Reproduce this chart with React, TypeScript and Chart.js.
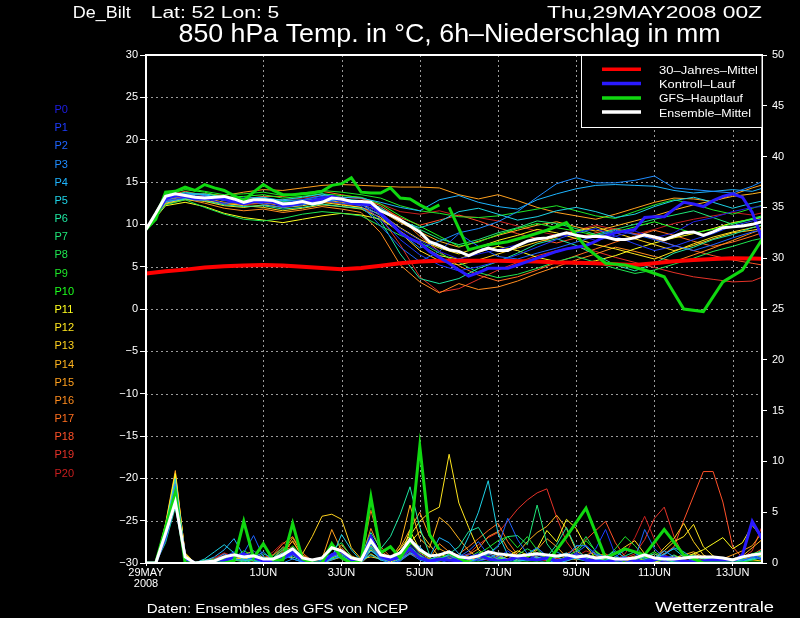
import React, { useEffect, useRef } from "react";
import { Chart, registerables } from "chart.js";

Chart.register(...registerables);

const FONT = "'Liberation Sans', 'DejaVu Sans', Arial, sans-serif";

// ---------- time axes (hours after 29MAY2008 00Z) ----------
const HOURS_6 = [
  0, 6, 12, 18, 24, 30, 36, 42, 48, 54, 60, 66, 72, 78, 84, 90,
  96, 102, 108, 114, 120, 126, 132, 138, 144, 150, 156, 162, 168, 174, 180, 186,
  192, 198, 204, 210, 216, 222, 228, 234, 240, 246, 252, 258, 264, 270, 276, 282,
  288, 294, 300, 306, 312, 318, 324, 330, 336, 342, 348, 354, 360, 366, 372, 378,
];
const HOURS_12 = [
  0, 12, 24, 36, 48, 60, 72, 84, 96, 108, 120, 132, 144, 156, 168, 180, 192,
  204, 216, 228, 240, 252, 264, 276, 288, 300, 312, 324, 336, 348, 360, 372, 384,
];
const GFS_HOURS_1 = [
  0, 6, 12, 18, 24, 30, 36, 42, 48, 54, 60, 66, 72, 78, 84, 90,
  96, 102, 108, 114, 120, 126, 132, 138, 144, 150, 156, 162, 168, 174, 180,
];
const GFS_HOURS_2 = [186, 198, 210, 222, 234, 246, 258, 270, 282, 294, 306, 318, 330, 342, 354, 366, 378];

const X_TICKS = [0, 72, 120, 168, 216, 264, 312, 360];
const X_LABELS: (string | string[])[] = [["29MAY", "2008"], "1JUN", "3JUN", "5JUN", "7JUN", "9JUN", "11JUN", "13JUN"];

// ---------- main curves, temperature (°C) ----------
const MEAN_T = [
  9.4, 11.3, 13.3, 13.6, 13.4, 13.2, 13.1, 13.2,
  13.3, 13.0, 12.6, 12.9, 12.9, 12.8, 12.4, 12.5,
  12.7, 12.4, 12.6, 13.1, 13.0, 12.7, 12.7, 12.6,
  11.6, 11.1, 10.5, 9.8, 9.1, 7.95, 7.5, 7.0,
  6.8, 6.3, 6.8, 7.2, 6.9, 6.9, 7.5, 8.0,
  8.3, 8.4, 8.7, 9.0, 8.7, 8.5, 8.6, 8.5,
  8.2, 8.2, 8.4, 8.75, 8.5, 8.2, 8.6, 9.0,
  9.1, 8.7, 9.1, 9.6, 9.7, 9.8, 10.0, 10.3,
];
const CONTROL_T = [
  9.4, 11.0, 13.0, 13.4, 13.3, 13.0, 13.0, 13.1,
  13.0, 12.7, 12.4, 12.7, 12.7, 12.6, 12.2, 12.3,
  12.6, 12.8, 13.0, 13.3, 12.9, 12.5, 12.4, 12.3,
  11.3, 10.2, 9.0, 8.3, 7.8, 6.8, 6.1, 5.4,
  4.6, 3.9, 4.3, 4.8, 4.8, 4.8, 5.2, 5.6,
  6.0, 6.4, 6.8, 7.1, 7.3, 7.5, 8.0, 8.6,
  9.0, 9.2, 9.4, 10.8, 10.9, 10.9, 11.8, 12.6,
  12.4, 12.1, 12.8, 13.3, 13.6, 13.2, 11.4, 8.3,
];
const GFS_T1 = [
  9.4, 10.6, 13.8, 13.9, 14.4, 14.0, 14.7, 14.3,
  14.0, 13.4, 12.8, 13.8, 14.7, 14.0, 13.5, 13.5,
  13.6, 13.7, 13.9, 14.6, 14.8, 15.5, 13.8, 13.7,
  13.7, 14.3, 13.1, 13.0, 12.3, 11.7, 12.3,
];
const GFS_T2 = [12.0, 7.0, 7.6, 7.95, 8.6, 9.3, 10.2, 7.3, 5.4, 5.2, 4.6, 3.8, 0.0, -0.3, 3.2, 4.6, 8.2];
const CLIMATE_T = [
  4.2, 4.45, 4.65, 4.9, 5.05, 5.15, 5.2, 5.15, 5.0, 4.85, 4.7,
  4.85, 5.1, 5.4, 5.6, 5.7, 5.7, 5.7, 5.7, 5.65, 5.6, 5.5,
  5.45, 5.4, 5.3, 5.2, 5.4, 5.65, 5.8, 5.9, 6.0, 5.95, 5.9,
];

// ---------- main curves, 6h precipitation (mm) ----------
const MEAN_P = [
  0, 0, 2.9, 6.0, 0.6, 0, 0.1, 0.2,
  0.6, 0.8, 0.6, 0.7, 0.4, 0.4, 0.8, 1.4,
  0.5, 0.3, 0.5, 1.5, 1.2, 0.5, 0.3, 2.2,
  0.8, 0.6, 1.0, 2.3, 1.3, 0.7, 0.8, 1.1,
  0.6, 0.5, 0.7, 1.1, 0.9, 0.8, 0.7, 0.8,
  0.9, 0.8, 0.7, 0.8, 0.6, 0.7, 0.5, 0.6,
  0.4, 0.4, 0.5, 0.8, 0.5, 0.4, 0.4, 0.5,
  0.6, 0.6, 0.6, 0.5, 0.3, 0.6, 0.8, 0.9,
];
const CONTROL_P = [
  0, 0, 2.8, 6.3, 0.5, 0, 0, 0,
  0.2, 0.6, 0.9, 0.5, 0.2, 0.1, 0.5, 1.0,
  0.3, 0, 0, 0.8, 1.2, 0.3, 0.1, 2.5,
  0.7, 0.3, 0.6, 1.4, 0.5, 0.2, 0.4, 0.3,
  0.2, 0.5, 0.8, 0.4, 0.2, 0.3, 0.6, 0.4,
  0.3, 0.5, 0.2, 0.4, 0.7, 0.3, 0.2, 0.1,
  0.3, 0.5, 0.2, 0.1, 0.3, 0.6, 0.4, 0.2,
  0.1, 0.2, 0.3, 0.2, 0.1, 0.8, 4.1, 2.4,
];
const GFS_P1 = [
  0, 0, 3.5, 6.9, 0, 0, 0, 0,
  0, 0.2, 4.1, 0.5, 1.9, 0.3, 0.3, 3.9,
  0.4, 0, 0, 1.9, 0.5, 0, 0.2, 6.5,
  1.0, 1.6, 0.5, 2.0, 11.5, 2.8, 1.3,
];
const GFS_P2 = [1.0, 0, 0, 0, 0, 0, 2.6, 5.4, 0.5, 1.4, 0.8, 3.3, 0.8, 0, 0, 0, 0];

// ---------- ensemble members P0..P20 ----------
const MEMBER_NAMES = ["P0", "P1", "P2", "P3", "P4", "P5", "P6", "P7", "P8", "P9", "P10",
  "P11", "P12", "P13", "P14", "P15", "P16", "P17", "P18", "P19", "P20"];
const MEMBER_COLORS = [
  "#1e1ee6", "#1e3cff", "#1e64ff", "#1e8cff", "#1eb4ff", "#1ed2e6", "#1ee6a0",
  "#1ee678", "#1ee650", "#1ee628", "#1eff1e", "#ffff1e", "#ffe61e", "#ffd21e",
  "#ffb41e", "#ffa01e", "#ff8c1e", "#ff6e1e", "#ff5028", "#e63228", "#c81e1e",
];

// temperatures at 12h steps (0..384h)
const P0_T = [9.4, 13.1, 13.4, 13.0, 12.5, 12.8, 12.9, 12.2, 12.5, 13.2, 12.8, 12.6, 11.2, 9.5, 8.1, 6.8, 5.9, 6.5, 7.0, 7.6, 8.2, 8.6, 8.8, 8.1, 8.6, 9.2, 8.4, 9.0, 10.3, 10.8, 11.5, 12.0, 12.2];
const P1_T = [9.4, 12.8, 13.2, 13.3, 12.8, 12.5, 12.6, 12.5, 12.9, 13.3, 12.7, 12.4, 10.6, 8.2, 6.4, 5.2, 4.5, 5.0, 5.6, 6.4, 7.3, 8.2, 9.0, 9.5, 8.6, 7.7, 6.9, 7.4, 8.2, 8.9, 9.8, 10.4, 10.9];
const P2_T = [9.4, 13.0, 13.6, 13.2, 12.4, 12.9, 12.4, 12.0, 12.3, 12.8, 12.5, 12.2, 9.8, 7.3, 5.6, 6.8, 8.9, 7.4, 6.2, 5.9, 6.6, 7.2, 7.9, 8.6, 9.3, 8.8, 8.2, 7.5, 6.9, 7.6, 8.4, 9.1, 9.6];
const P3_T = [9.4, 12.6, 13.1, 13.4, 12.9, 12.6, 12.8, 12.6, 12.4, 12.7, 12.9, 12.4, 11.0, 9.0, 7.2, 8.0, 9.0, 9.5, 10.3, 11.5, 13.2, 14.8, 15.5, 14.9, 14.9, 15.2, 15.7, 14.3, 14.1, 13.9, 13.7, 14.5, 15.6];
const P4_T = [9.4, 13.4, 13.7, 13.5, 13.0, 13.1, 13.2, 12.8, 12.9, 13.4, 13.2, 13.1, 12.6, 12.0, 11.6, 12.9, 13.4, 12.6, 12.1, 11.8, 12.9, 13.6, 14.2, 14.6, 14.7, 14.6, 14.5, 14.0, 13.7, 13.9, 14.1, 13.9, 14.6];
const P5_T = [9.4, 12.9, 13.5, 13.6, 13.2, 12.7, 12.9, 12.9, 13.2, 13.6, 13.0, 12.8, 12.0, 10.4, 9.6, 10.3, 11.5, 11.9, 11.2, 10.5, 10.9, 11.6, 12.0, 11.5, 10.8, 11.2, 12.1, 12.8, 13.2, 12.6, 11.9, 12.5, 13.0];
const P6_T = [9.4, 12.7, 13.0, 12.8, 12.3, 12.1, 12.2, 11.8, 12.0, 12.4, 12.1, 11.9, 10.4, 6.5, 3.6, 3.0, 3.6, 4.8, 5.6, 6.6, 7.7, 8.3, 7.5, 6.4, 5.2, 4.5, 5.4, 6.6, 7.3, 8.2, 8.8, 9.6, 10.2];
const P7_T = [9.4, 13.2, 13.8, 13.5, 12.8, 12.9, 13.1, 12.7, 12.8, 13.1, 12.8, 12.7, 11.8, 10.6, 9.4, 8.3, 7.6, 8.2, 9.0, 9.6, 10.4, 10.1, 9.5, 8.8, 9.4, 10.0, 10.6, 11.1, 11.6, 10.8, 10.0, 10.6, 11.2];
const P8_T = [9.4, 12.3, 12.9, 12.0, 11.2, 10.6, 10.4, 10.7, 11.2, 11.5, 11.3, 11.0, 9.8, 8.7, 7.9, 6.6, 5.5, 4.3, 3.7, 4.1, 4.8, 5.6, 6.2, 5.5, 4.8, 4.2, 4.6, 5.3, 6.0, 6.8, 7.4, 8.1, 8.6];
const P9_T = [9.4, 13.6, 14.3, 13.9, 13.5, 13.6, 13.8, 13.4, 13.7, 14.0, 13.8, 13.5, 13.1, 12.2, 11.6, 11.3, 10.9, 10.8, 11.0, 11.4, 11.8, 12.2, 11.6, 11.0, 10.7, 11.5, 12.3, 12.9, 12.4, 11.7, 11.2, 11.9, 12.6];
const P10_T = [9.4, 13.5, 14.1, 13.8, 13.2, 13.3, 13.5, 13.1, 13.3, 13.6, 13.4, 13.2, 12.4, 11.0, 9.8, 8.6, 7.4, 7.9, 8.8, 9.5, 10.1, 9.6, 9.2, 8.7, 9.1, 9.7, 10.3, 9.6, 9.0, 9.4, 10.1, 10.7, 11.3];
const P11_T = [9.4, 12.2, 12.6, 12.1, 11.3, 10.8, 10.5, 10.2, 10.6, 11.0, 11.3, 11.1, 10.6, 9.2, 7.6, 6.3, 5.9, 6.7, 7.4, 6.9, 6.1, 5.6, 5.3, 5.7, 6.3, 7.1, 7.8, 8.4, 8.9, 9.5, 10.2, 10.6, 11.0];
const P12_T = [9.4, 12.5, 13.0, 12.7, 12.2, 12.0, 12.3, 12.0, 12.2, 12.6, 12.3, 12.0, 11.2, 9.6, 8.2, 7.2, 6.5, 7.3, 8.1, 8.7, 9.4, 9.0, 8.3, 7.6, 7.1, 6.5, 5.9, 6.8, 7.7, 8.5, 9.1, 9.6, 10.1];
const P13_T = [9.4, 12.4, 12.9, 12.8, 12.5, 12.2, 12.0, 11.6, 11.9, 12.3, 12.1, 11.8, 10.8, 9.0, 6.9, 5.7, 5.2, 5.8, 6.5, 7.2, 7.9, 8.5, 9.2, 9.7, 9.0, 8.3, 7.6, 6.9, 7.5, 8.3, 9.0, 9.3, 9.7];
const P14_T = [9.4, 12.8, 13.3, 13.1, 12.6, 12.4, 12.6, 12.2, 12.5, 12.9, 12.6, 12.3, 11.6, 10.2, 9.1, 8.0, 7.3, 8.0, 8.7, 9.3, 9.9, 10.3, 9.7, 9.2, 9.8, 10.4, 11.0, 11.7, 12.3, 12.8, 13.3, 13.6, 14.0];
const P15_T = [9.4, 13.0, 13.5, 13.6, 13.4, 13.8, 14.1, 14.0, 14.3, 14.6, 14.7, 14.6, 14.5, 14.4, 14.4, 14.3, 13.5, 13.0, 13.5, 12.8, 12.0, 11.4, 11.0, 10.6, 11.2, 11.9, 12.6, 13.1, 13.0, 12.7, 13.5, 14.3, 15.0];
const P16_T = [9.4, 12.6, 13.0, 12.5, 11.9, 11.6, 11.8, 11.4, 11.7, 12.1, 11.8, 11.4, 9.0, 5.2, 3.2, 1.9, 3.0, 2.3, 2.6, 3.3, 4.2, 5.0, 5.8, 6.5, 7.3, 6.8, 6.2, 5.6, 6.4, 7.2, 8.1, 9.0, 9.8];
const P17_T = [9.4, 12.9, 13.4, 13.2, 12.9, 13.0, 13.3, 13.3, 13.6, 13.9, 13.5, 13.1, 12.2, 10.7, 8.6, 6.8, 5.1, 4.0, 3.3, 3.8, 4.6, 5.5, 6.3, 7.1, 7.9, 8.6, 9.3, 8.7, 8.0, 7.4, 7.9, 8.6, 9.4];
const P18_T = [9.4, 13.3, 13.9, 13.4, 12.9, 12.7, 12.9, 12.5, 12.8, 13.1, 12.9, 12.7, 11.9, 10.8, 9.9, 10.5, 11.1, 10.4, 9.6, 8.9, 8.3, 7.8, 8.4, 9.0, 9.5, 8.9, 8.3, 7.5, 6.9, 6.3, 5.8, 5.4, 5.0];
const P19_T = [9.4, 12.7, 13.2, 12.9, 12.4, 12.3, 12.5, 12.3, 12.5, 12.7, 12.4, 12.0, 10.8, 7.6, 3.8, 2.0, 2.4, 3.5, 4.6, 5.5, 6.3, 6.9, 7.4, 6.8, 6.1, 5.5, 4.9, 4.3, 3.8, 3.5, 3.2, 3.3, 4.2];
const P20_T = [9.4, 13.1, 13.6, 13.4, 13.0, 12.8, 13.0, 12.9, 13.1, 13.4, 13.2, 13.0, 12.4, 11.5, 11.2, 11.6, 11.0, 10.8, 10.4, 9.8, 9.2, 8.7, 9.3, 9.9, 9.4, 8.8, 9.4, 10.1, 10.6, 11.0, 11.4, 11.1, 11.6];

// precipitation at 6h steps (0..378h)
const P0_P = [0, 0, 2.5, 7.2, 0.6, 0, 0, 0, 0.3, 0.8, 0.6, 1.2, 0.4, 0.2, 0.9, 1.4, 0.3, 0, 0.2, 1.6, 0.5, 0, 0.4, 2.8, 0.6, 0.3, 0.5, 1.8, 0.9, 0.2, 0.4, 0.6, 0.2, 0, 0.3, 0.8, 0.2, 0, 0.5, 0.9, 0.3, 0, 0.1, 0.4, 1.0, 0.6, 0.2, 0, 0, 0.3, 0.5, 0.1, 0, 0.2, 0.6, 0.3, 0, 0, 0.1, 0.3, 0.2, 0.9, 3.9, 2.2];
const P1_P = [0, 0, 3.0, 6.5, 0.4, 0, 0, 0.2, 0.6, 1.1, 0.5, 0.8, 0.3, 0, 0.5, 1.2, 0.4, 0, 0, 0.8, 1.3, 0.2, 0, 2.2, 0.5, 0.2, 0.9, 1.5, 0.6, 0, 0.3, 0.2, 0.5, 0.9, 0.3, 0.1, 0.6, 1.2, 0.4, 0.3, 0.8, 0.4, 0.1, 0.6, 0.9, 0.5, 1.4, 3.3, 0.8, 0.2, 0, 0.3, 0.5, 0.2, 0, 0.1, 0.4, 0.2, 0, 0, 0.3, 0.6, 0.8, 0.4];
const P2_P = [0, 0, 2.2, 5.8, 0.3, 0, 0, 0, 0.2, 0.5, 1.0, 2.7, 0.6, 0, 0.3, 0.8, 0.2, 0, 0, 0.6, 0.9, 0.3, 0, 1.8, 0.4, 0, 0.2, 1.1, 0.5, 0.2, 0, 0.3, 0.6, 1.2, 2.1, 0.8, 1.6, 4.4, 2.3, 0.9, 1.5, 0.7, 0.3, 0.4, 1.0, 1.7, 0.9, 0.6, 0.3, 0, 0.4, 3.3, 1.4, 0.5, 0.2, 0, 0, 0.2, 0.5, 0.3, 0, 0.2, 0.6, 0.3];
const P3_P = [0, 0, 3.3, 7.8, 0.5, 0, 0, 0.3, 0.9, 0.4, 0.3, 0.5, 1.1, 0.2, 0, 0.4, 0.1, 0, 0, 0.3, 0.7, 0.2, 0, 1.5, 0.3, 0.6, 0.2, 0.9, 0.3, 0, 0.2, 0.8, 0.3, 0, 0.5, 1.0, 0.4, 0.2, 0.7, 0.3, 0.2, 0.5, 1.1, 0.6, 1.7, 1.7, 0.8, 0.3, 0.1, 0, 0, 0.2, 0.5, 1.2, 0.6, 0.2, 0, 0, 0, 0.2, 0.4, 0.3, 0.5, 0.9];
const P4_P = [0, 0, 2.8, 6.9, 0.4, 0, 0.2, 0.6, 1.3, 2.4, 0.7, 0.2, 0, 0.3, 0.8, 0.4, 0.1, 0, 0.3, 0.9, 0.4, 0, 0, 1.2, 0.5, 0.2, 0.9, 2.2, 1.6, 0.6, 2.5, 2.0, 0.9, 0.4, 0.2, 0.5, 0.9, 0.3, 0.1, 0.4, 0.6, 0.3, 0, 0.2, 0.5, 0.8, 0.4, 0.2, 0.6, 1.3, 1.0, 0.4, 0.3, 0.8, 1.5, 1.1, 0.4, 0.1, 0, 0.2, 0.3, 0.5, 0.7, 0.5];
const P5_P = [0, 0, 3.6, 8.3, 0.7, 0, 0.4, 1.1, 1.8, 1.0, 0.3, 0, 0.2, 0.5, 1.0, 0.6, 0.2, 0, 0, 0.5, 2.8, 1.3, 0.2, 0.8, 0.3, 0, 0.4, 1.0, 0.6, 0.3, 0.8, 1.2, 0.6, 2.6, 5.0, 8.1, 2.9, 0.8, 0.3, 0.2, 0.5, 0.3, 0.6, 1.0, 0.4, 0.2, 0.3, 0.6, 1.2, 0.5, 0.2, 0.1, 0.4, 0.9, 1.4, 0.6, 0.2, 0, 0, 0.1, 0.3, 0.2, 0.4, 0.6];
const P6_P = [0, 0, 2.0, 5.5, 0.3, 0, 0, 0, 0.1, 0.4, 0.2, 0.6, 0.3, 0.1, 0.4, 0.9, 0.2, 0, 0, 0.4, 0.6, 0.2, 0.5, 3.0, 1.4, 2.6, 4.8, 7.5, 3.5, 0.8, 0.3, 0.9, 1.6, 3.1, 3.5, 1.9, 0.6, 0.3, 0.2, 0.9, 1.5, 0.6, 1.8, 3.5, 1.4, 0.5, 0.2, 0.3, 0.6, 0.4, 0.2, 0.6, 0.9, 0.3, 0.1, 0, 0.2, 0.5, 0.3, 0.1, 0, 0.2, 0.4, 1.3];
const P7_P = [0, 0, 3.1, 7.6, 0.6, 0, 0, 0.2, 0.5, 0.3, 0.1, 0.4, 0.9, 0.5, 1.3, 1.0, 0.3, 0, 0, 0.7, 1.2, 0.4, 0.2, 1.9, 0.7, 0.3, 0.5, 1.6, 0.8, 0.2, 0.4, 0.6, 0.3, 0.1, 0.4, 0.9, 1.7, 2.6, 2.7, 1.8, 5.7, 1.9, 0.6, 0.3, 0.5, 0.8, 0.4, 0.2, 0.3, 0.7, 1.1, 0.5, 0.2, 0.4, 0.8, 0.3, 0.1, 0, 0.2, 0.4, 0.2, 0.1, 0.3, 0.6];
const P8_P = [0, 0, 2.6, 6.1, 0.5, 0, 0.3, 0.4, 0.2, 0.6, 0.9, 0.3, 0.1, 0.7, 1.5, 1.1, 0.3, 0, 0.1, 1.3, 2.0, 0.6, 0.3, 2.4, 1.0, 0.4, 0.8, 1.3, 0.5, 0.2, 0.6, 0.4, 0.2, 0.5, 1.1, 0.6, 0.3, 0.2, 0.8, 1.4, 0.9, 0.4, 0.2, 0.6, 1.2, 2.6, 1.1, 0.4, 0.2, 0.3, 0.6, 0.3, 0.1, 0, 0.2, 0.5, 0.8, 0.4, 0.1, 0, 0.2, 0.4, 0.9, 1.2];
const P9_P = [0, 0, 2.4, 5.9, 0.4, 0, 0, 0.1, 0.4, 0.8, 0.4, 0.2, 0.6, 0.3, 0.7, 1.3, 0.5, 0.1, 0, 0.4, 0.8, 0.3, 0.2, 1.4, 0.6, 0.3, 1.2, 2.0, 1.1, 0.5, 0.2, 0.3, 0.7, 0.4, 0.9, 1.5, 2.2, 2.6, 1.5, 2.6, 1.3, 0.5, 0.3, 0.2, 0.6, 0.4, 0.9, 0.5, 1.4, 2.6, 1.7, 0.6, 0.3, 0.2, 0.5, 0.3, 0.1, 0.3, 0.6, 0.4, 0.2, 0.1, 0.3, 0.5];
const P10_P = [0, 0, 3.4, 7.0, 0.6, 0, 0, 0, 0.3, 0.5, 1.2, 0.7, 0.3, 0.2, 0.6, 1.7, 0.6, 0.2, 0, 0.5, 1.1, 0.4, 0.1, 1.6, 0.4, 0.2, 0.6, 1.4, 0.7, 0.3, 0.5, 0.8, 0.4, 0.2, 0.3, 0.7, 0.5, 0.2, 0.4, 0.6, 0.9, 0.4, 0.2, 0.5, 1.0, 2.2, 1.2, 0.4, 0.2, 0.1, 0.3, 0.6, 1.1, 0.5, 0.2, 0.1, 0, 0.2, 0.4, 0.2, 0.1, 0.3, 0.5, 0.8];
const P11_P = [0, 0, 3.8, 8.8, 0.9, 0, 0, 0, 0.2, 0.4, 0.3, 0.6, 0.2, 0.1, 0.4, 0.8, 0.3, 0, 0, 0.5, 0.9, 0.3, 0.1, 1.3, 0.4, 0.1, 0.5, 3.2, 1.3, 0.6, 0.9, 0.5, 0.2, 0.4, 0.8, 0.5, 0.3, 0.7, 1.2, 0.8, 1.4, 3.2, 2.1, 4.3, 3.4, 1.6, 0.5, 0.2, 0.3, 0.6, 0.4, 0.2, 0.1, 0.3, 0.7, 0.5, 0.9, 1.3, 1.9, 2.5, 1.4, 2.0, 3.7, 2.5];
const P12_P = [0, 0, 3.0, 7.4, 0.8, 0, 0, 0, 0.3, 0.2, 0.5, 0.4, 0.1, 0.3, 0.6, 0.9, 0.2, 0, 0, 0.3, 0.6, 0.2, 0, 0.9, 0.3, 0.5, 1.4, 2.7, 4.1, 5.0, 5.5, 10.7, 5.9, 3.5, 1.3, 0.6, 0.3, 0.2, 0.4, 0.7, 1.0, 0.5, 0.3, 0.6, 0.9, 0.4, 0.2, 0.1, 0.3, 0.5, 0.2, 0.1, 0.4, 1.2, 2.1, 2.6, 3.8, 1.6, 0.7, 0.3, 0.2, 0.5, 0.9, 0.6];
const P13_P = [0, 0, 2.7, 6.8, 1.0, 0, 0, 0, 0.2, 0.3, 0.6, 0.4, 0.2, 0.3, 0.8, 0.5, 0.9, 2.6, 4.6, 4.8, 4.3, 1.5, 0.4, 0.6, 0.4, 0.2, 0.7, 2.0, 3.1, 1.8, 0.6, 0.3, 0.2, 0.4, 0.3, 0.6, 0.4, 0.2, 0.5, 0.9, 0.6, 0.3, 0.2, 0.4, 0.7, 0.3, 0.2, 0.4, 0.9, 1.6, 2.2, 0.9, 0.4, 1.5, 2.4, 3.9, 2.1, 0.8, 0.3, 0.2, 0.4, 0.6, 0.3, 0.2];
const P14_P = [0, 0, 3.5, 8.6, 0.7, 0, 0, 0.2, 0.4, 0.3, 0.8, 1.2, 0.5, 0.2, 0.9, 2.2, 0.6, 0.1, 0, 0.6, 1.8, 0.7, 0.3, 2.6, 0.9, 0.4, 1.8, 5.7, 2.4, 1.5, 4.5, 3.7, 2.4, 1.2, 0.5, 0.3, 0.6, 0.4, 1.0, 2.1, 3.0, 3.6, 4.7, 3.4, 1.2, 0.5, 0.3, 0.2, 0.4, 0.3, 0.6, 0.2, 0.1, 0.3, 0.5, 0.8, 1.1, 0.6, 0.3, 0.2, 0.4, 0.7, 1.5, 2.3];
const P15_P = [0, 0, 3.9, 9.1, 0.8, 0, 0, 0, 0.2, 0.5, 0.3, 0.2, 0.6, 0.4, 1.1, 2.5, 0.8, 0.2, 0.4, 3.3, 1.2, 0.4, 0.2, 1.7, 0.6, 0.3, 1.5, 3.3, 5.0, 2.6, 1.4, 0.9, 0.5, 0.3, 0.6, 1.2, 0.7, 0.4, 0.2, 0.5, 1.3, 2.4, 1.6, 0.6, 0.3, 0.8, 1.1, 0.5, 0.2, 0.4, 0.7, 0.3, 0.2, 0.1, 0.3, 0.6, 0.9, 0.5, 0.3, 0.4, 0.8, 1.2, 1.7, 3.0];
const P16_P = [0, 0, 2.9, 7.9, 0.6, 0, 0, 0, 0.3, 0.6, 0.4, 0.3, 0.2, 0.5, 1.3, 2.1, 0.7, 0.1, 0, 0.8, 1.5, 0.5, 0.3, 3.4, 1.2, 0.5, 0.9, 2.1, 1.0, 0.4, 1.9, 1.1, 0.5, 0.8, 1.4, 2.6, 3.1, 1.4, 0.7, 0.3, 0.5, 0.4, 0.2, 0.6, 0.9, 0.4, 0.2, 0.3, 0.6, 0.3, 0.1, 0.4, 0.9, 0.5, 0.2, 0.1, 0.3, 0.7, 0.4, 0.2, 0.1, 0.3, 0.6, 1.0];
const P17_P = [0, 0, 3.2, 8.1, 0.5, 0, 0, 0.3, 0.7, 0.4, 0.2, 0.5, 0.3, 0.8, 1.9, 2.6, 1.0, 0.2, 0, 0.4, 1.2, 0.5, 0.2, 5.2, 1.6, 0.6, 0.4, 1.3, 0.7, 0.3, 0.6, 0.4, 0.9, 1.6, 2.4, 3.2, 3.9, 2.1, 0.8, 0.4, 0.3, 0.6, 0.4, 0.2, 0.5, 0.3, 0.7, 0.9, 0.4, 0.2, 0.3, 0.6, 0.4, 0.2, 0.5, 0.3, 0.2, 0.1, 0.3, 0.5, 0.2, 0.4, 0.6, 1.1];
const P18_P = [0, 0, 3.7, 8.4, 0.7, 0, 0, 0.4, 0.9, 0.5, 0.3, 0.6, 0.2, 0.4, 1.6, 1.3, 0.5, 0, 0, 0.5, 1.1, 0.3, 0.2, 2.1, 0.7, 0.4, 0.3, 0.9, 0.5, 0.2, 0.4, 0.7, 0.3, 0.2, 0.5, 0.9, 0.6, 0.3, 0.4, 0.8, 0.5, 0.3, 0.6, 0.9, 1.4, 2.3, 3.2, 4.1, 2.0, 0.6, 0.3, 0.2, 0.4, 0.9, 1.6, 4.2, 6.6, 9.0, 9.0, 6.0, 1.6, 0.5, 0.8, 1.4];
const P19_P = [0, 0, 3.4, 8.9, 0.9, 0, 0, 0, 0.3, 0.6, 0.4, 0.3, 0.5, 0.8, 1.5, 1.0, 0.4, 0, 0, 0.6, 1.3, 0.5, 0.3, 1.7, 0.6, 0.3, 0.5, 1.2, 0.8, 0.3, 0.5, 0.4, 0.6, 0.9, 1.8, 2.5, 3.0, 4.1, 5.3, 6.2, 6.9, 7.3, 4.5, 2.1, 0.8, 0.4, 0.6, 0.3, 0.2, 0.5, 0.9, 2.3, 4.4, 5.5, 2.6, 0.7, 0.3, 0.2, 0.4, 0.3, 0.2, 0.5, 1.2, 3.6];
const P20_P = [0, 0, 3.0, 7.7, 0.6, 0, 0.2, 0.5, 1.0, 0.6, 0.3, 0.2, 0.4, 1.1, 2.0, 1.4, 0.5, 0, 0, 0.5, 1.0, 0.4, 0.1, 1.5, 0.5, 0.2, 0.4, 1.0, 0.6, 0.3, 0.2, 0.4, 0.3, 0.6, 0.4, 0.3, 0.5, 0.9, 0.6, 0.3, 0.4, 0.2, 0.5, 0.3, 0.6, 1.2, 0.8, 0.4, 0.3, 0.9, 2.5, 4.6, 2.3, 0.8, 0.4, 0.3, 0.2, 0.4, 0.6, 0.5, 0.3, 0.2, 0.5, 0.8];

const MEMBER_T = [P0_T, P1_T, P2_T, P3_T, P4_T, P5_T, P6_T, P7_T, P8_T, P9_T, P10_T, P11_T, P12_T, P13_T, P14_T, P15_T, P16_T, P17_T, P18_T, P19_T, P20_T];
const MEMBER_P = [P0_P, P1_P, P2_P, P3_P, P4_P, P5_P, P6_P, P7_P, P8_P, P9_P, P10_P, P11_P, P12_P, P13_P, P14_P, P15_P, P16_P, P17_P, P18_P, P19_P, P20_P];

// ---------- legend / texts ----------
const LEGEND_LABELS = ["30–Jahres–Mittel", "Kontroll–Lauf", "GFS–Hauptlauf", "Ensemble–Mittel"];
const LEGEND_COLORS = ["#ff0000", "#2a1aff", "#10d810", "#ffffff"];
const LEGEND_WIDTHS = [99, 76, 84, 92];

const STATION = "De_Bilt";
const POSITION = "Lat: 52 Lon: 5";
const RUN_DATE = "Thu,29MAY2008 00Z";
const TITLE = "850 hPa Temp. in °C, 6h–Niederschlag in mm";
const SOURCE = "Daten: Ensembles des GFS von NCEP";
const BRAND = "Wetterzentrale";

const RED = "#ff0000";
const BLUE = "#2a1aff";
const GREEN = "#10d810";
const WHITE = "#ffffff";

const pts = (hours: number[], vals: number[]) => vals.map((v, i) => ({ x: hours[i], y: v }));

function fitText(ctx: CanvasRenderingContext2D, text: string, x: number, y: number, size: number, width: number | null, color: string) {
  ctx.save();
  ctx.font = `${size}px ${FONT}`;
  ctx.fillStyle = color;
  ctx.textBaseline = "alphabetic";
  ctx.textAlign = "left";
  ctx.translate(x, y);
  if (width) {
    const w = ctx.measureText(text).width || 1;
    ctx.scale(width / w, 1);
  }
  ctx.fillText(text, 0, 0);
  ctx.restore();
}

export default function App() {
  const ref = useRef<HTMLCanvasElement>(null);

  useEffect(() => {
    const canvas = ref.current;
    if (!canvas) return;

    const overlay = {
      id: "overlay",
      beforeDraw(chart: any) {
        const ctx = chart.ctx;
        ctx.save();
        ctx.fillStyle = "#000";
        ctx.fillRect(0, 0, chart.width, chart.height);
        ctx.restore();
      },
      beforeDatasetsDraw(chart: any) {
        const { ctx, chartArea: a, scales } = chart;
        ctx.save();
        ctx.strokeStyle = "#9a9a9a";
        ctx.lineWidth = 1;
        ctx.setLineDash([2, 3]);
        for (let v = -25; v <= 25; v += 5) {
          const y = Math.round(scales.y.getPixelForValue(v)) + 0.5;
          ctx.beginPath();
          ctx.moveTo(a.left, y);
          ctx.lineTo(a.right, y);
          ctx.stroke();
        }
        X_TICKS.slice(1).forEach((h) => {
          const x = Math.round(scales.x.getPixelForValue(h)) + 0.5;
          ctx.beginPath();
          ctx.moveTo(x, a.top);
          ctx.lineTo(x, a.bottom);
          ctx.stroke();
        });
        ctx.restore();
      },
      afterDatasetsDraw(chart: any) {
        const { ctx, chartArea: a } = chart;
        ctx.save();
        ctx.strokeStyle = WHITE;
        ctx.lineWidth = 2;
        ctx.strokeRect(a.left, a.top, a.right - a.left, a.bottom - a.top);
        // legend box
        const bx = 581.5;
        const by = a.top;
        ctx.fillStyle = "#000";
        ctx.fillRect(bx, by, a.right - bx, 72);
        ctx.lineWidth = 1;
        ctx.strokeRect(bx, by + 0.5, a.right - bx, 72);
        const rowsY = [69.3, 83.5, 98.0, 112.0];
        const baseY = [73.5, 87.5, 102.3, 116.5];
        LEGEND_LABELS.forEach((lab, i) => {
          ctx.strokeStyle = LEGEND_COLORS[i];
          ctx.lineWidth = 3.5;
          ctx.beginPath();
          ctx.moveTo(602, rowsY[i]);
          ctx.lineTo(641, rowsY[i]);
          ctx.stroke();
          fitText(ctx, lab, 659, baseY[i], 11.5, LEGEND_WIDTHS[i], WHITE);
        });
        ctx.restore();
      },
      afterDraw(chart: any) {
        const ctx = chart.ctx;
        fitText(ctx, STATION, 72.7, 18.3, 16, 58, WHITE);
        fitText(ctx, POSITION, 150.7, 18.3, 16, 128.6, WHITE);
        fitText(ctx, RUN_DATE, 547, 18.3, 16, 215, WHITE);
        fitText(ctx, TITLE, 178.5, 41.7, 25, 542, WHITE);
        MEMBER_NAMES.forEach((n, i) => {
          fitText(ctx, n, 54.5, 113 + 18.18 * i, 11, null, MEMBER_COLORS[i]);
        });
        fitText(ctx, SOURCE, 146.7, 612.7, 13, 261.6, WHITE);
        fitText(ctx, BRAND, 655, 612.3, 14.5, 119, WHITE);
      },
    };

    const line = (label: string, hours: number[], vals: number[], color: string, width: number, axis: string) => ({
      label,
      data: pts(hours, vals),
      borderColor: color,
      backgroundColor: color,
      borderWidth: width,
      pointRadius: 0,
      tension: 0,
      fill: false,
      yAxisID: axis,
    });

    const datasets: any[] = [
      line("Ensemble-Mittel T", HOURS_6, MEAN_T, WHITE, 3, "y"),
      line("Ensemble-Mittel RR", HOURS_6, MEAN_P, WHITE, 3, "y2"),
      line("GFS T a", GFS_HOURS_1, GFS_T1, GREEN, 3, "y"),
      line("GFS T b", GFS_HOURS_2, GFS_T2, GREEN, 3, "y"),
      line("GFS RR a", GFS_HOURS_1, GFS_P1, GREEN, 3, "y2"),
      line("GFS RR b", GFS_HOURS_2, GFS_P2, GREEN, 3, "y2"),
      line("Kontroll T", HOURS_6, CONTROL_T, BLUE, 3, "y"),
      line("Kontroll RR", HOURS_6, CONTROL_P, BLUE, 3, "y2"),
      line("30-Jahres-Mittel", HOURS_12, CLIMATE_T, RED, 4, "y"),
    ];
    MEMBER_NAMES.forEach((n, i) => {
      datasets.push(line(n + " T", HOURS_12, MEMBER_T[i], MEMBER_COLORS[i], 1, "y"));
    });
    MEMBER_NAMES.forEach((n, i) => {
      datasets.push(line(n + " RR", HOURS_6, MEMBER_P[i], MEMBER_COLORS[i], 1, "y2"));
    });

    const tickFont = { family: FONT, size: 11 };
    const chart = new Chart(canvas, {
      type: "line",
      data: { datasets },
      options: {
        responsive: false,
        animation: false,
        devicePixelRatio: 1,
        events: [],
        layout: { padding: { top: 55, left: 0, right: 0, bottom: 0 } },
        plugins: { legend: { display: false }, tooltip: { enabled: false }, title: { display: false } },
        scales: {
          x: {
            type: "linear",
            min: 0,
            max: 378,
            afterBuildTicks: (s: any) => {
              s.ticks = X_TICKS.map((v) => ({ value: v }));
            },
            afterFit: (s: any) => {
              s.height = 55;
            },
            ticks: {
              autoSkip: false,
              maxRotation: 0,
              minRotation: 0,
              color: WHITE,
              padding: 1,
              font: { family: FONT, size: 11, lineHeight: 1.0 },
              callback: (v: any) => {
                const i = X_TICKS.indexOf(Number(v));
                return i >= 0 ? X_LABELS[i] : "";
              },
            },
            grid: { drawOnChartArea: false, drawTicks: true, tickLength: 3, color: WHITE, lineWidth: 1 },
            border: { display: false },
          },
          y: {
            type: "linear",
            position: "left",
            min: -30,
            max: 30,
            afterFit: (s: any) => {
              s.width = 146;
            },
            ticks: {
              stepSize: 5,
              color: WHITE,
              padding: 2,
              font: tickFont,
              callback: (v: any) => (Number(v) < 0 ? "−" + Math.abs(Number(v)) : String(v)),
            },
            grid: { drawOnChartArea: false, drawTicks: true, tickLength: 6, color: WHITE, lineWidth: 1 },
            border: { display: false },
          },
          y2: {
            type: "linear",
            position: "right",
            min: 0,
            max: 50,
            afterFit: (s: any) => {
              s.width = 38;
            },
            ticks: { stepSize: 5, color: WHITE, padding: 5, font: tickFont },
            grid: { drawOnChartArea: false, drawTicks: true, tickLength: 5, color: WHITE, lineWidth: 1 },
            border: { display: false },
          },
        },
      },
      plugins: [overlay],
    } as any);

    return () => chart.destroy();
  }, []);

  return (
    <div style={{ position: "fixed", left: 0, top: 0, width: 800, height: 618, background: "#000" }}>
      <canvas ref={ref} width={800} height={618} style={{ display: "block", width: 800, height: 618 }} />
    </div>
  );
}
